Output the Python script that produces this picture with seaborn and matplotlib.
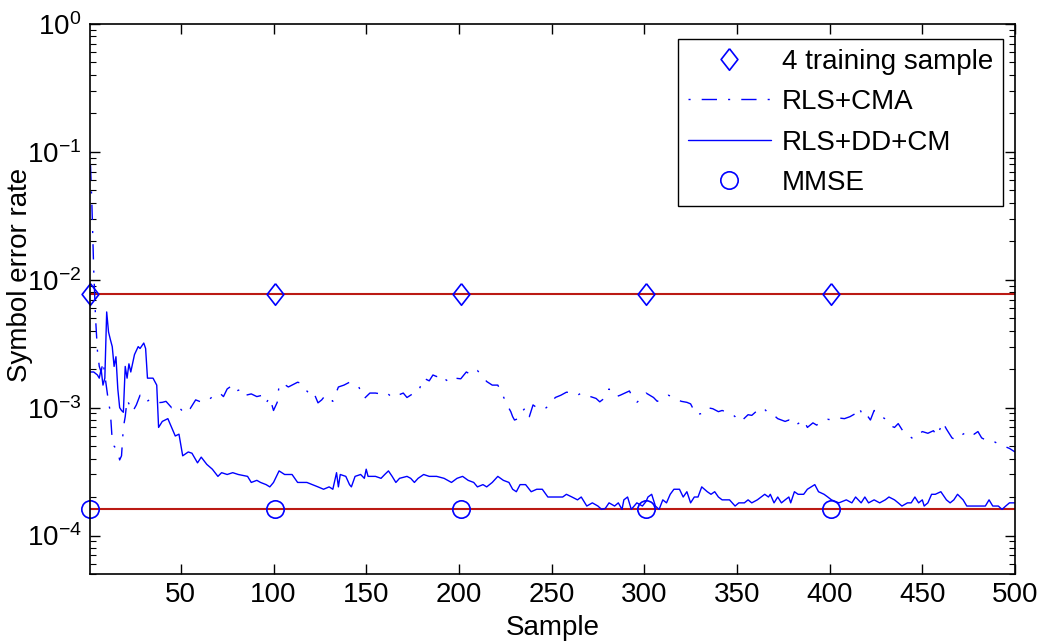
import numpy as np
import pandas as pd
import matplotlib
matplotlib.use("Agg")
import matplotlib.pyplot as plt
import seaborn as sns
from matplotlib.ticker import LogLocator, NullFormatter, FixedLocator

# ---------------- data ----------------
cma_x = [1, 2, 3, 4, 5, 6, 7, 8, 9, 10, 11, 12, 13, 14, 15, 16, 17, 18, 19, 20,
         21, 23, 24, 26, 28, 30, 31, 33, 35, 37, 40, 42, 45, 47, 50, 52, 55, 58, 60, 62,
         65, 68, 71, 73, 75, 78, 80, 83, 85, 88, 91, 94, 96, 98, 100, 102, 103, 105, 108, 110,
         113, 115, 117, 119, 121, 122, 124, 126, 128, 130, 132, 135, 138, 141, 143, 146, 149, 152, 155, 158,
         161, 164, 167, 170, 172, 175, 178, 181, 184, 186, 188, 191, 193, 195, 198, 201, 204, 207, 210, 212,
         215, 218, 221, 224, 226, 228, 229, 230, 232, 234, 236, 238, 240, 242, 246, 249, 252, 255, 258, 261,
         264, 266, 268, 271, 274, 276, 279, 281, 283, 285, 287, 290, 292, 294, 296, 299, 301, 303, 305, 307,
         310, 313, 315, 318, 320, 323, 325, 328, 331, 334, 337, 340, 342, 344, 347, 349, 351, 353, 356, 358,
         361, 363, 365, 367, 370, 372, 374, 376, 378, 381, 383, 386, 388, 391, 393, 396, 399, 402, 405, 408,
         411, 414, 416, 418, 420, 422, 424, 426, 428, 431, 433, 435, 437, 440, 443, 445, 447, 450, 453, 456,
         458, 461, 463, 466, 468, 470, 472, 475, 478, 480, 482, 485, 488, 491, 494, 497, 500]
cma_y = [0.1, 0.04, 0.012, 0.005, 0.0028, 0.0021, 0.0019, 0.0023, 0.0018, 0.0014, 0.0011, 0.00092, 0.00055, 0.0005, 0.00048, 0.00045, 0.00039, 0.00042, 0.0007, 0.00085,
         0.00115, 0.001, 0.00093, 0.00105, 0.00125, 0.00118, 0.0011, 0.00115, 0.0011, 0.00109, 0.0011, 0.00112, 0.001, 0.00105, 0.00097, 0.0009, 0.00098, 0.00115, 0.00112, 0.0011,
         0.00115, 0.00125, 0.0013, 0.00122, 0.0014, 0.0015, 0.00135, 0.0014, 0.00125, 0.00128, 0.00122, 0.00125, 0.00109, 0.0012, 0.00095, 0.0011, 0.0015, 0.00155, 0.00145, 0.0015,
         0.00158, 0.00155, 0.0014, 0.0013, 0.00135, 0.00128, 0.00109, 0.00115, 0.00125, 0.00118, 0.00112, 0.00145, 0.0015, 0.00158, 0.0015, 0.00145, 0.00118, 0.0013, 0.0013, 0.00128,
         0.00131, 0.0012, 0.00125, 0.0013, 0.0012, 0.00128, 0.00132, 0.0017, 0.00162, 0.0018, 0.00175, 0.00181, 0.00165, 0.00158, 0.0017, 0.00168, 0.0019, 0.0018, 0.00195, 0.00181,
         0.0016, 0.0015, 0.0015, 0.00122, 0.00105, 0.00093, 0.00085, 0.0008, 0.00082, 0.00093, 0.001, 0.00085, 0.00105, 0.001, 0.00097, 0.00105, 0.0012, 0.00125, 0.00132, 0.00131,
         0.00125, 0.0013, 0.00128, 0.00122, 0.00118, 0.00111, 0.0012, 0.0014, 0.00128, 0.00122, 0.00125, 0.00131, 0.00135, 0.00118, 0.0011, 0.0012, 0.0013, 0.00125, 0.0012, 0.00112,
         0.00118, 0.00125, 0.00122, 0.00115, 0.00112, 0.0011, 0.00107, 0.00088, 0.0009, 0.001, 0.00098, 0.00093, 0.00095, 0.00093, 0.0009, 0.00085, 0.00078, 0.0008, 0.00088, 0.00087,
         0.00095, 0.001, 0.00097, 0.0009, 0.00087, 0.00082, 0.0008, 0.00078, 0.0008, 0.00072, 0.00075, 0.0008, 0.0007, 0.00076, 0.00073, 0.00078, 0.00081, 0.0008, 0.00083, 0.00082,
         0.00085, 0.0009, 0.001, 0.00085, 0.00088, 0.0008, 0.00095, 0.00092, 0.00085, 0.0008, 0.00072, 0.0007, 0.00075, 0.00064, 0.0006, 0.00057, 0.0006, 0.00065, 0.00063, 0.00066,
         0.0006, 0.00077, 0.00068, 0.00058, 0.00056, 0.0006, 0.00062, 0.00066, 0.00062, 0.00065, 0.00058, 0.00055, 0.00055, 0.00052, 0.0005, 0.00048, 0.00045]

dd_x = [1, 3, 5, 6, 7, 8, 9, 10, 11, 12, 13, 14, 15, 16, 17, 18, 19, 20, 21, 22,
        23, 25, 27, 28, 30, 31, 32, 35, 37, 38, 40, 43, 45, 47, 49, 51, 54, 56, 59, 61,
        64, 67, 70, 72, 75, 78, 81, 86, 88, 91, 93, 96, 98, 100, 103, 106, 110, 113, 118, 121,
        124, 127, 130, 132, 134, 135, 136, 139, 141, 142, 144, 147, 149, 150, 151, 155, 158, 160, 162, 164,
        166, 168, 172, 174, 176, 178, 181, 184, 188, 192, 196, 199, 202, 205, 208, 210, 213, 215, 218, 221,
        224, 227, 229, 231, 233, 236, 239, 242, 245, 248, 256, 258, 261, 264, 266, 269, 272, 275, 277, 279,
        281, 284, 286, 288, 289, 291, 293, 296, 299, 301, 302, 304, 306, 308, 310, 312, 314, 316, 319, 321,
        323, 325, 327, 329, 331, 334, 336, 338, 340, 342, 346, 349, 351, 354, 356, 358, 361, 363, 365, 367,
        368, 370, 372, 374, 376, 378, 379, 381, 383, 386, 388, 390, 392, 394, 397, 399, 401, 405, 409, 412,
        414, 417, 419, 421, 424, 427, 430, 432, 435, 437, 439, 442, 444, 446, 448, 450, 451, 453, 455, 457,
        460, 463, 465, 467, 469, 472, 474, 484, 486, 488, 491, 493, 495, 497, 500]
dd_y = [0.0019, 0.0019, 0.0018, 0.0017, 0.002, 0.0015, 0.0017, 0.0056, 0.0039, 0.0034, 0.003, 0.0021, 0.0025, 0.0014, 0.001, 0.00095, 0.00092, 0.0021, 0.0017, 0.0022,
        0.0019, 0.0026, 0.003, 0.0029, 0.0032, 0.0029, 0.0017, 0.0017, 0.0015, 0.0007, 0.00078, 0.00082, 0.0007, 0.0006, 0.00062, 0.00042, 0.00045, 0.00044, 0.00037, 0.00041,
        0.00036, 0.00033, 0.00029, 0.00031, 0.0003, 0.00031, 0.0003, 0.00029, 0.00026, 0.00027, 0.00026, 0.00025, 0.00024, 0.00026, 0.00032, 0.0003, 0.0003, 0.00026, 0.00026, 0.00025,
        0.00024, 0.00023, 0.00024, 0.00023, 0.00031, 0.00024, 0.0003, 0.00029, 0.00025, 0.00024, 0.00029, 0.0003, 0.00028, 0.00033, 0.00029, 0.00029, 0.00028, 0.0003, 0.00032, 0.00029,
        0.00026, 0.00028, 0.00029, 0.00028, 0.00026, 0.00028, 0.0003, 0.00029, 0.00029, 0.00028, 0.00026, 0.00028, 0.00029, 0.00027, 0.00026, 0.00024, 0.00025, 0.00024, 0.00026, 0.00029,
        0.00027, 0.00026, 0.00023, 0.00022, 0.00025, 0.00025, 0.00022, 0.00023, 0.00023, 0.0002, 0.0002, 0.00021, 0.0002, 0.00019, 0.0002, 0.00017, 0.00018, 0.00017, 0.00016, 0.000163,
        0.00018, 0.00017, 0.00018, 0.00016, 0.00019, 0.0002, 0.00016, 0.00018, 0.00017, 0.000185, 0.0002, 0.00021, 0.00017, 0.00016, 0.00019, 0.00018, 0.00021, 0.00023, 0.00023, 0.0002,
        0.00022, 0.00018, 0.0002, 0.0002, 0.00024, 0.00022, 0.00021, 0.00022, 0.0002, 0.00019, 0.00019, 0.00017, 0.00018, 0.00018, 0.00019, 0.00018, 0.00019, 0.0002, 0.00021, 0.0002,
        0.00021, 0.00018, 0.0002, 0.00018, 0.00019, 0.0002, 0.00018, 0.00022, 0.00021, 0.00021, 0.00023, 0.00024, 0.00025, 0.00022, 0.00021, 0.0002, 0.00019, 0.00018, 0.00019, 0.00018,
        0.0002, 0.00018, 0.0002, 0.00018, 0.00019, 0.00018, 0.00019, 0.0002, 0.00019, 0.00018, 0.00017, 0.00018, 0.00018, 0.0002, 0.00018, 0.00019, 0.00017, 0.00018, 0.00021, 0.00021,
        0.00022, 0.00019, 0.00018, 0.00019, 0.00021, 0.00019, 0.00017, 0.00017, 0.00019, 0.00017, 0.00017, 0.00016, 0.00017, 0.00018, 0.00018]

marker_x = [1, 101, 201, 301, 401]
training_ser = 0.0078
mmse_ser = 0.000162
line_x = [1, 500]

labels = ["4 training sample", "RLS+CMA", "RLS+DD+CM", "MMSE"]
xticks = [50, 100, 150, 200, 250, 300, 350, 400, 450, 500]

# ---------------- style ----------------
sns.set_style("ticks")
plt.rcParams["font.family"] = ["Liberation Sans", "DejaVu Sans"]
plt.rcParams["mathtext.fontset"] = "custom"
plt.rcParams["mathtext.rm"] = "Liberation Sans"
plt.rcParams["mathtext.it"] = "Liberation Sans:italic"
plt.rcParams["mathtext.bf"] = "Liberation Sans:bold"
plt.rcParams["axes.unicode_minus"] = True
for key in ("text.color", "axes.labelcolor", "xtick.color", "ytick.color",
            "xtick.labelcolor", "ytick.labelcolor", "axes.edgecolor"):
    plt.rcParams[key] = "black"

blue = "#0000FF"
red = "#BB1A14"

fig = plt.figure(figsize=(10.46, 6.42), dpi=100)
fig.patch.set_facecolor("white")
ax = fig.add_axes([90 / 1046, 1 - 574 / 642, (1015 - 90) / 1046, (574 - 24) / 642])
ax.set_facecolor("white")

# red reference lines
sns.lineplot(x=line_x, y=[training_ser] * 2, ax=ax, color=red, linewidth=1.5, legend=False)
sns.lineplot(x=line_x, y=[mmse_ser] * 2, ax=ax, color=red, linewidth=1.5, legend=False)

# curves
df_cma = pd.DataFrame({"Sample": cma_x, "SER": cma_y})
df_dd = pd.DataFrame({"Sample": dd_x, "SER": dd_y})
sns.lineplot(data=df_cma, x="Sample", y="SER", ax=ax, color=blue, linewidth=1.0,
             linestyle=(0, (1.5, 8, 11, 8)), legend=False)
l_cma = ax.get_lines()[-1]
sns.lineplot(data=df_dd, x="Sample", y="SER", ax=ax, color=blue, linewidth=1.0, legend=False)
l_dd = ax.get_lines()[-1]

# markers
diamond = [(0, 1), (0.78, 0), (0, -1), (-0.78, 0), (0, 1)]
sns.lineplot(x=marker_x, y=[training_ser] * len(marker_x), ax=ax, color=blue, linestyle="none",
             marker=diamond, markersize=15.5, markerfacecolor="none", markeredgecolor=blue,
             markeredgewidth=1.2, legend=False)
l_dia = ax.get_lines()[-1]
sns.lineplot(x=marker_x, y=[mmse_ser] * len(marker_x), ax=ax, color=blue, linestyle="none",
             marker="o", markersize=12.5, markerfacecolor="none", markeredgecolor=blue,
             markeredgewidth=1.2, legend=False)
l_circ = ax.get_lines()[-1]
for ln in (l_dia, l_circ):
    ln.set_clip_on(False)

ax.set_yscale("log")
ax.set_xlim(1, 500)
ax.set_ylim(5e-5, 1)
ax.xaxis.set_major_locator(FixedLocator(xticks))
ax.set_xticklabels([str(t) for t in xticks])
ax.yaxis.set_major_locator(LogLocator(base=10, numticks=10))
ax.yaxis.set_minor_locator(LogLocator(base=10, subs=np.arange(2, 10), numticks=20))
ax.yaxis.set_minor_formatter(NullFormatter())

ax.tick_params(axis="both", which="major", direction="in", length=7, width=1.0,
               labelsize=20, top=True, right=True, colors="black", pad=6)
ax.tick_params(axis="both", which="minor", direction="in", length=4, width=0.8,
               top=True, right=True, colors="black")
ax.tick_params(axis="x", which="minor", bottom=False, top=False)
for sp in ax.spines.values():
    sp.set_visible(True)
    sp.set_color("black")
    sp.set_linewidth(1.2)

ax.set_xlabel("Sample", fontsize=20, labelpad=4.5, color="black")
ax.set_ylabel("Symbol error rate", fontsize=20, color="black")
ax.yaxis.set_label_coords(-0.062, (574 - 275) / 550)

leg = ax.legend([l_dia, l_cma, l_dd, l_circ], labels, loc="upper right",
                bbox_to_anchor=(1 - 12 / 925, 1 - 15 / 550), fontsize=20,
                frameon=True, fancybox=False, shadow=False, edgecolor="black",
                handlelength=3.0, handletextpad=0.4, borderpad=0.35, labelspacing=0.52,
                borderaxespad=0)
leg.get_frame().set_linewidth(1.0)
leg.get_frame().set_alpha(1)
for t in leg.get_texts():
    t.set_color("black")

fig.savefig("out.png", dpi=100, facecolor="white")
